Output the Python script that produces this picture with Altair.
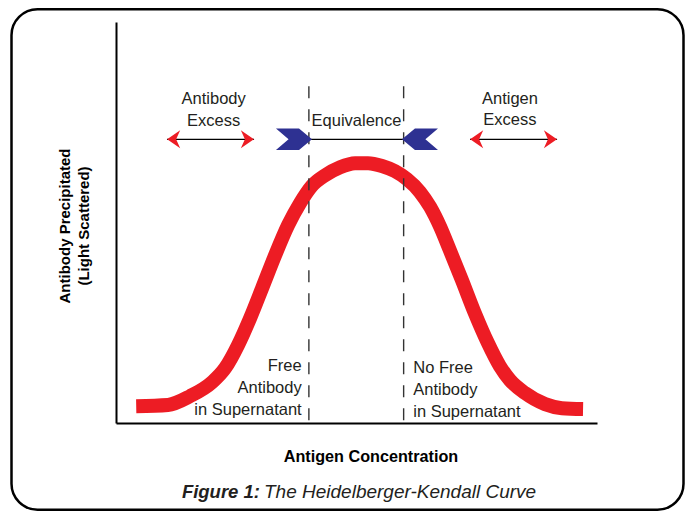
import altair as alt
import pandas as pd

# ---- data ----
curve_x = [4.2, 10.8, 15.4, 20.0, 22.7, 25.4, 27.9, 30.4, 33.1, 35.8, 38.3, 40.7, 43.5, 46.6,
           49.7, 52.4, 55.3, 58.0, 60.5, 63.2, 65.3, 67.4, 69.4, 71.9, 74.6, 77.3, 79.8, 81.9,
           85.0, 89.2, 92.7, 97.1]
curve_y = [4.2, 4.5, 6.7, 10.2, 13.7, 19.5, 26.2, 33.7, 41.9, 49.4, 54.9, 59.1, 61.8, 63.8,
           64.8, 64.8, 64.1, 62.8, 60.8, 57.6, 53.9, 48.9, 43.1, 35.7, 27.4, 20.0, 14.2, 10.7,
           7.5, 4.7, 3.7, 3.5]

# zone boundaries (dashed lines)
zone_x = [40.1, 59.8]
zone_top = 84.0

# arrows: shaft start/end, at one height
arrow_y = 70.75
shaft_x1 = [10.6, 73.6, 40.5]
shaft_x2 = [28.7, 91.7, 59.7]
red_left_x = [12.5, 75.5]
red_right_x = [26.8, 89.8]
blue_right_x = [37.0]
blue_left_x = [63.2]

# labels
center_text = ["Antibody", "Excess", "Antigen", "Excess", "Equivalence"]
center_x = [20.3, 20.3, 81.9, 81.9, 50.0]
center_y = [79.6, 74.0, 79.6, 74.3, 74.0]
right_text = ["Free", "Antibody", "in Supernatant"]
right_x = [38.6, 38.6, 38.6]
right_y = [13.0, 7.5, 2.0]
left_text = ["No Free", "Antibody", "in Supernatant"]
left_x = [61.8, 61.8, 61.8]
left_y = [12.4, 7.0, 1.4]

RED = "#ed1c24"
BLUE = "#2e3192"
INK = "#231f20"
FONT = "Liberation Sans"
BOLD_FONT = "Liberation Sans"

xs = alt.Scale(domain=[0, 100], nice=False, zero=False)
ys = alt.Scale(domain=[0, 100], nice=False, zero=False)

x_axis = alt.Axis(
    title="Antigen Concentration", ticks=False, labels=False, grid=False,
    domainColor="black", domainWidth=2,
    titleFont=BOLD_FONT, titleFontWeight="bold", titleFontSize=16.2, titleColor="black",
    titleX=254.5, titleY=38.7, titleAlign="center", titleBaseline="alphabetic")
y_axis = alt.Axis(
    title=["Antibody Precipitated", "(Light Scattered)"], ticks=False, labels=False, grid=False,
    domainColor="black", domainWidth=2,
    titleFont=BOLD_FONT, titleFontWeight="bold", titleFontSize=15, titleColor="black",
    titleAngle=270, titleX=-47, titleY=203.5, titleAlign="center",
    titleBaseline="alphabetic", titleLineHeight=19)


def X(field):
    return alt.X(field, scale=xs, axis=x_axis)


def Y(field):
    return alt.Y(field, scale=ys, axis=y_axis)


one = pd.DataFrame({"k": [0]})

frame = alt.Chart(one).mark_rect(
    cornerRadius=26, fillOpacity=0, stroke="black", strokeWidth=2.5
).encode(x=alt.value(-104.5), x2=alt.value(567.5), y=alt.value(-12.7), y2=alt.value(487.7))

zones = alt.Chart(pd.DataFrame({"x": zone_x, "y0": [0, 0], "y1": [zone_top, zone_top]})).mark_rule(
    color="#333333", strokeWidth=1.4, strokeDash=[12, 11]
).encode(x=X("x:Q"), y=Y("y1:Q"), y2="y0:Q")

curve = alt.Chart(pd.DataFrame({"conc": curve_x, "precip": curve_y})).mark_line(
    color=RED, strokeWidth=14, interpolate="monotone", strokeJoin="round"
).encode(x=X("conc:Q"), y=Y("precip:Q"), order="conc:Q")

shafts = alt.Chart(pd.DataFrame({"x1": shaft_x1, "x2": shaft_x2, "y": [arrow_y] * 3})).mark_rule(
    color="black", strokeWidth=1.3
).encode(x=X("x1:Q"), x2="x2:Q", y=Y("y:Q"))

red_left = alt.Chart(pd.DataFrame({"x": red_left_x, "y": [arrow_y] * 2})).mark_point(
    shape="M -1 0 L 0.45 -1 L 0 0 L 0.45 1 Z", size=324, filled=True, color=RED, opacity=1
).encode(x=X("x:Q"), y=Y("y:Q"))
red_right = alt.Chart(pd.DataFrame({"x": red_right_x, "y": [arrow_y] * 2})).mark_point(
    shape="M 1 0 L -0.45 -1 L 0 0 L -0.45 1 Z", size=324, filled=True, color=RED, opacity=1
).encode(x=X("x:Q"), y=Y("y:Q"))
blue_right = alt.Chart(pd.DataFrame({"x": blue_right_x, "y": [arrow_y]})).mark_point(
    shape="M -1 -0.6 L 0.28 -0.6 L 1 0 L 0.28 0.6 L -1 0.6 L -0.3 0 Z",
    size=1296, filled=True, color=BLUE, opacity=1
).encode(x=X("x:Q"), y=Y("y:Q"))
blue_left = alt.Chart(pd.DataFrame({"x": blue_left_x, "y": [arrow_y]})).mark_point(
    shape="M 1 -0.6 L -0.28 -0.6 L -1 0 L -0.28 0.6 L 1 0.6 L 0.3 0 Z",
    size=1296, filled=True, color=BLUE, opacity=1
).encode(x=X("x:Q"), y=Y("y:Q"))


def labels(txt, xv, yv, align):
    return alt.Chart(pd.DataFrame({"t": txt, "x": xv, "y": yv})).mark_text(
        font=FONT, fontSize=16.5, color=INK, align=align, baseline="alphabetic"
    ).encode(x=X("x:Q"), y=Y("y:Q"), text="t:N")


lab_c = labels(center_text, center_x, center_y, "center")
lab_r = labels(right_text, right_x, right_y, "right")
lab_l = labels(left_text, left_x, left_y, "left")

cap1 = alt.Chart(one).mark_text(
    font=FONT, fontSize=18.5, fontWeight="bold", fontStyle="italic", color=INK,
    align="right", baseline="alphabetic"
).encode(x=alt.value(144), y=alt.value(476.3), text=alt.value("Figure 1:"))
cap2 = alt.Chart(one).mark_text(
    font=FONT, fontSize=19, fontStyle="italic", color=INK,
    align="left", baseline="alphabetic"
).encode(x=alt.value(148), y=alt.value(476.3), text=alt.value("The Heidelberger-Kendall Curve"))

chart = alt.layer(
    frame, curve, zones, shafts, red_left, red_right, blue_right, blue_left,
    lab_c, lab_r, lab_l, cap1, cap2
).properties(
    width=481, height=401,
    autosize=alt.AutoSizeParams(type="none"),
    padding={"left": 108, "top": 14, "right": 88, "bottom": 88},
    background="white",
).configure_view(stroke=None)

chart.save("out.html", embed_options={"renderer": "svg", "actions": False})
